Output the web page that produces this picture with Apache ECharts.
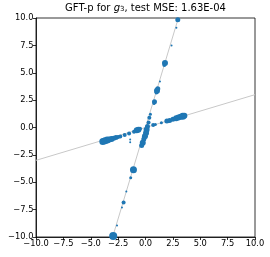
<!DOCTYPE html>
<html><head><meta charset="utf-8">
<script src="https://cdn.jsdelivr.net/npm/echarts@6/dist/echarts.min.js"></script>
<style>html,body{margin:0;padding:0;background:#fff}#c{width:270px;height:257px}</style>
</head><body><div id="c"></div>
<script>
const tickValues = [-10, -7.5, -5, -2.5, 0, 2.5, 5, 7.5, 10];
const refLineA_x = [-10, 10];
const refLineA_y = [-3, 3];
const refLineB_x = [-3, 3];
const refLineB_y = [-10, 10];
const pointsX = [2.95, 2.82, 2.38, 1.78, 1.72, 1.32, 1.12, 1.05, 1.0, 0.82, 0.78, 0.45, 0.35, 0.28, 0.18, 0.1, 0.05, -0.05, -0.15, -0.25, -0.35, -1.1, -1.35, -1.75, -2.0, -2.15, -2.6, -2.95,
  -3.9, -3.7, -3.5, -3.3, -3.1, -2.9, -2.7, -2.5, -2.3, -1.9, -1.5, -1.05, -0.8, -0.65, -0.5,
  0.7, 0.9, 1.45, 1.95, 2.2, 2.5, 2.8, 3.0, 3.2, 3.4, 3.55, -1.4, -1.4];
const pointsY = [9.85, 9.1, 7.5, 5.9, 5.7, 4.2, 3.55, 3.35, 3.2, 2.35, 2.2, 1.2, 0.9, 0.45, 0.1, -0.2, -0.5, -0.8, -1.05, -1.4, -1.65, -3.85, -4.6, -5.85, -6.85, -7.3, -8.95, -9.9,
  -1.28, -1.22, -1.15, -1.1, -1.05, -0.98, -0.92, -0.87, -0.82, -0.68, -0.55, -0.38, -0.25, -0.2, -0.12,
  0.22, 0.27, 0.44, 0.6, 0.63, 0.75, 0.85, 0.92, 0.98, 1.03, 1.07, -1.1, -1.35];
const pointsSize = [5, 2, 2, 6, 4, 2, 5, 6, 4, 5, 3, 3, 4, 4, 5, 6, 6, 6, 5, 6, 5, 7, 3, 2, 4, 2, 2, 8,
  7, 7, 7, 6, 6, 5, 5, 4, 4, 4, 4, 4, 6, 6, 4,
  4, 3, 3, 5, 5, 5, 6, 6, 6, 7, 6, 2, 2];

const fmt = v => v.toFixed(1).replace('-', '\u2212');
const axisCommon = {
  type: 'value', min: -10, max: 10, interval: 2.5,
  axisLine: {show: true, onZero: false, lineStyle: {color: '#000', width: 0.8}},
  axisTick: {show: true, length: 3, lineStyle: {color: '#000', width: 0.8}},
  axisLabel: {formatter: fmt, fontFamily: 'DejaVu Sans', fontSize: 8.3, color: '#000', margin: 2.5, showMinLabel: true, showMaxLabel: true, hideOverlap: false},
  splitLine: {show: false}
};
const chart = echarts.init(document.getElementById('c'), null, {renderer: 'canvas'});
chart.setOption({
  animation: false,
  grid: {left: 36, right: 15, top: 18, bottom: 20, show: true, borderColor: '#000', borderWidth: 0.8},
  xAxis: Object.assign({}, axisCommon),
  yAxis: Object.assign({}, axisCommon),
  graphic: [{
    type: 'text', x: 145.5, y: 13,
    style: {
      text: '{a|GFT-p for }{i|g}{s|3}{a|, test MSE: 1.63E-04}',
      align: 'center', verticalAlign: 'bottom',
      rich: {
        a: {fontFamily: 'DejaVu Sans', fontSize: 10, fill: '#000'},
        i: {fontFamily: 'DejaVu Sans', fontSize: 10, fontStyle: 'italic', fill: '#000'},
        s: {fontFamily: 'DejaVu Sans', fontSize: 7, fill: '#000', verticalAlign: 'bottom', padding: [3, 0, 0, 0]}
      }
    }
  }],
  series: [
    {type: 'line', data: refLineA_x.map((x, i) => [x, refLineA_y[i]]), symbol: 'none', lineStyle: {color: '#c8c8c8', width: 1}, z: 1},
    {type: 'line', data: refLineB_x.map((x, i) => [x, refLineB_y[i]]), symbol: 'none', lineStyle: {color: '#c8c8c8', width: 1}, z: 1},
    {type: 'scatter', data: pointsX.map((x, i) => [x, pointsY[i], pointsSize[i]]),
     symbolSize: d => d[2], itemStyle: {color: '#1f77b4', opacity: 1}, z: 2}
  ]
});
</script></body></html>
